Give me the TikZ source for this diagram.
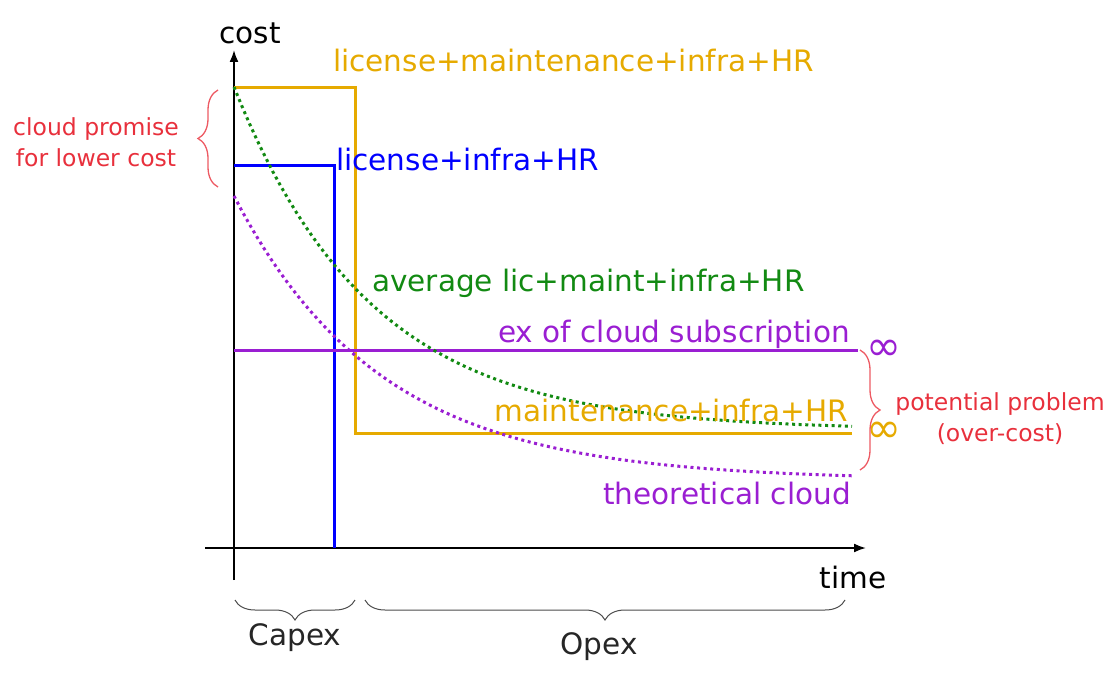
\documentclass[tikz,border=0pt]{standalone}
\usepackage{fontspec}
\setmainfont{DejaVu Sans}
\usepackage{xcolor}
\usetikzlibrary{arrows.meta,decorations.pathreplacing}
\definecolor{gold}{HTML}{E6AA00}
\definecolor{leaf}{HTML}{128A12}
\definecolor{plum}{HTML}{9A1ED2}
\definecolor{alert}{HTML}{E8303C}
\tikzset{
axis/.style={line width=1.8pt, -{Latex[length=12pt,width=9pt]}},
cost/.style={line width=3pt},
trend/.style={line width=3pt, dash pattern=on 3pt off 3.6pt},
lbl/.style={inner sep=0pt, font=\fontsize{29.5}{32}\selectfont},
inf/.style={inner sep=0pt, font=\fontsize{42}{42}\selectfont},
note/.style={inner sep=0pt, align=center, text=alert, font=\fontsize{23.5}{31}\selectfont},
curly/.style={decorate, decoration={brace,amplitude=20pt}, line width=1.3pt}
}

\begin{document}
\begin{tikzpicture}[x=1pt,y=-1pt]
\useasboundingbox (0,0) rectangle (1113,685);
\coordinate (o) at (234,548);
% axes
\draw[axis](234,580)--(234,50);
\draw[axis](205,548)--(866,548);
\node[lbl](cost) at (250,33){cost};
\node[lbl](time) at (853,577){time};
% step costs
\draw[cost,gold](234,87)--(355,87)--(355,433)--(852,433);
\draw[cost,blue](234,165)--(334,165)--(334,548);
\draw[cost,plum](234,350)--(858,350);
% averaged curves
\draw[trend,leaf] plot[domain=234:852,samples=80] (\x,{430-343*exp(-(\x-234)/137)});
\draw[trend,plum] plot[domain=234:852,samples=80] (\x,{480-284*exp(-(\x-234)/147)});
% labels
\node[lbl,text=gold,anchor=west](full) at (333,61){license+maintenance+infra+HR};
\node[lbl,text=blue,anchor=west](lic) at (336,160){license+infra+HR};
\node[lbl,text=leaf,anchor=west](avg) at (372,283){average lic+maint+infra+HR};
\node[lbl,text=plum,anchor=east](sub) at (850,334){ex of cloud subscription};
\node[lbl,text=gold,anchor=east](maint) at (848,410){maintenance+infra+HR};
\node[lbl,text=plum,anchor=east](theo) at (851,493){theoretical cloud};
\node[inf,text=plum](inf1) at (884,350){∞};
\node[inf,text=gold](inf2) at (884,432){∞};
% braces
\draw[curly,alert!80](218,187)--(218,90);
\draw[curly,alert!80](860,350)--(860,470);
\node[note](promise) at (96,142){cloud promise\\for lower cost};
\node[note](problem) at (1000,419){potential problem\\(over-cost)};
\draw[curly,black!70,line width=1pt](355,600)--(235,600);
\draw[curly,black!70,line width=1pt](845,600)--(365,600);
\node[lbl,text=black!85](capex) at (295,638){Capex};
\node[lbl,text=black!85](opex) at (599,647){Opex};
\end{tikzpicture}
\end{document}
